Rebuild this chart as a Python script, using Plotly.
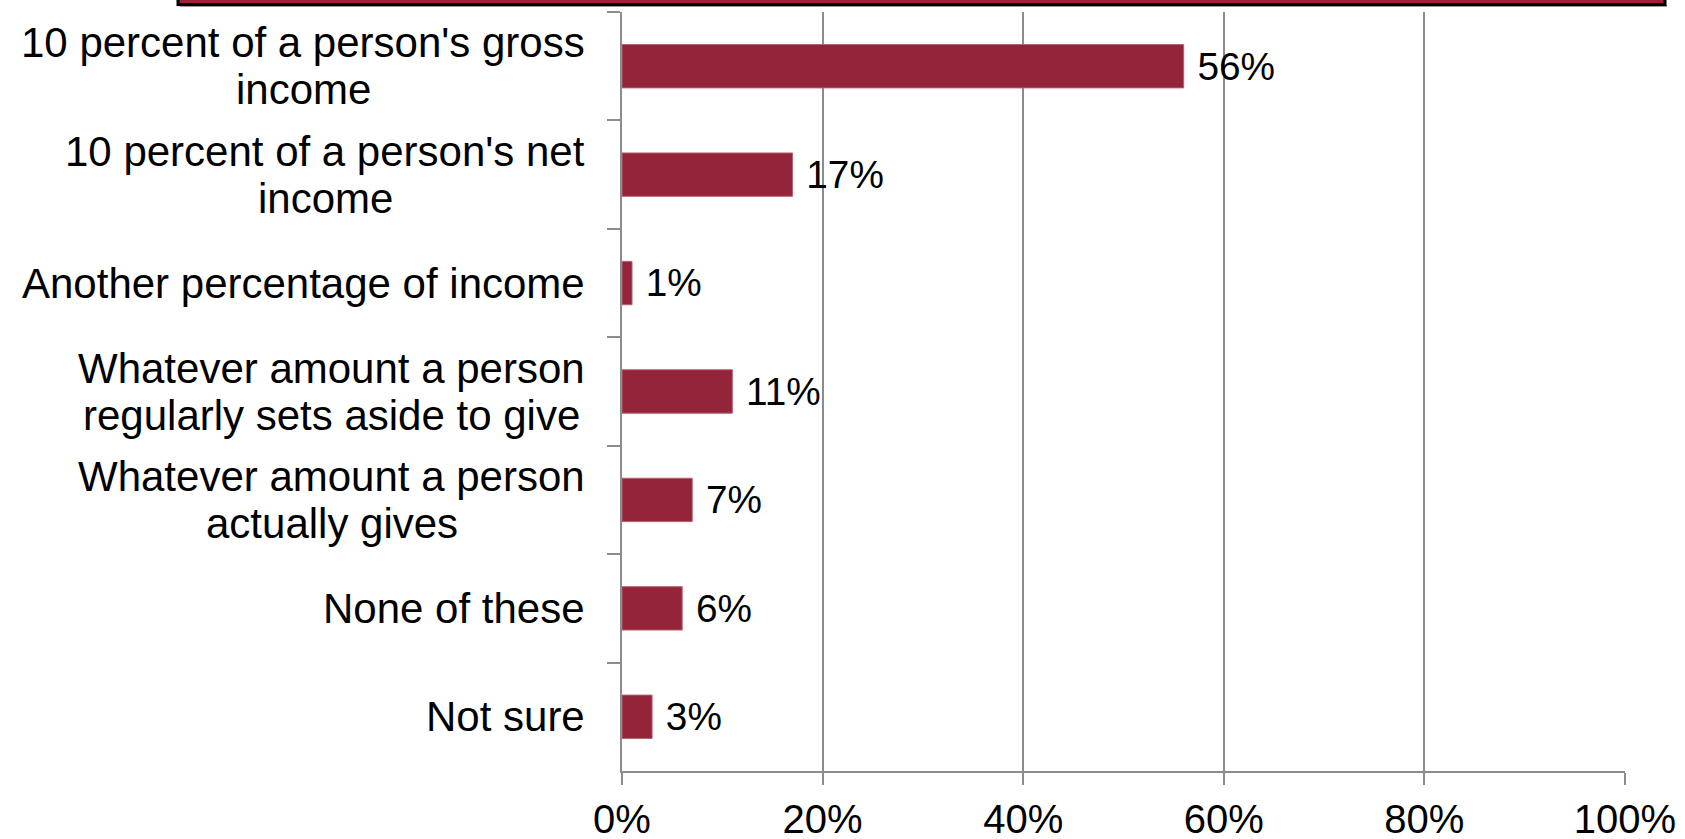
import plotly.graph_objects as go

categories = [
    "10 percent of a person's gross<br>income",
    "10 percent of a person's net<br>income",
    "Another percentage of income",
    "Whatever amount a person<br>regularly sets aside to give",
    "Whatever amount a person<br>actually gives",
    "None of these",
    "Not sure",
]
values = [56, 17, 1, 11, 7, 6, 3]
x_tick_vals = [0, 20, 40, 60, 80, 100]
x_tick_text = ["0%", "20%", "40%", "60%", "80%", "100%"]

W, H = 1685, 839
L, R, T, B = 622, 60, 12, 68
FONT = "Liberation Sans, Arial, sans-serif"
FS = 42
GRID = "#8c8c8c"
BAR = "#93243A"
LINE_GAP = 47
LABEL_RIGHT = 585

# approximate Arial / Liberation Sans advance widths (per 1000 em)
CHAR_W = {
    " ": 278, "'": 191, "0": 556, "1": 556, "2": 556, "3": 556, "4": 556,
    "5": 556, "6": 556, "7": 556, "8": 556, "9": 556,
    "a": 556, "b": 556, "c": 500, "d": 556, "e": 556, "f": 278, "g": 556,
    "h": 556, "i": 222, "j": 222, "k": 500, "l": 222, "m": 833, "n": 556,
    "o": 556, "p": 556, "q": 556, "r": 333, "s": 500, "t": 278, "u": 556,
    "v": 500, "w": 722, "x": 500, "y": 500, "z": 500,
    "A": 667, "N": 722, "W": 944,
}


def text_w(s):
    return sum(CHAR_W.get(c, 556) for c in s) / 1000 * FS


fig = go.Figure(
    go.Bar(
        x=values,
        y=categories,
        orientation="h",
        marker=dict(color=BAR, line=dict(color="#b8606f", width=1)),
        text=[f"\u00a0{v}%" for v in values],
        textposition="outside",
        textfont=dict(family=FONT, size=FS, color="black"),
        cliponaxis=False,
        width=0.4,
    )
)

plot_h = H - T - B
plot_w = W - L - R


def px_x(px):
    return (px - L) / plot_w


def px_y(py):
    return (H - B - py) / plot_h


annotations = []
for cat in categories:
    lines = cat.split("<br>")
    n = len(lines)
    block_w = max(text_w(s) for s in lines)
    cx = LABEL_RIGHT - block_w / 2
    for j, line in enumerate(lines):
        annotations.append(
            dict(
                x=px_x(cx),
                xref="paper",
                y=cat,
                yref="y",
                text=line,
                showarrow=False,
                xanchor="center",
                yanchor="middle",
                align="center",
                yshift=((n - 1) / 2 - j) * LINE_GAP,
                font=dict(family=FONT, size=FS, color="black"),
            )
        )

fig.update_layout(
    width=W,
    height=H,
    margin=dict(l=L, r=R, t=T, b=B, autoexpand=False),
    paper_bgcolor="white",
    plot_bgcolor="white",
    showlegend=False,
    font=dict(family=FONT, size=FS, color="black"),
    xaxis=dict(
        range=[0, 100],
        tickvals=x_tick_vals,
        ticktext=x_tick_text,
        showgrid=True,
        gridcolor=GRID,
        gridwidth=1.5,
        showline=True,
        linecolor=GRID,
        linewidth=1.5,
        ticks="outside",
        ticklen=12,
        tickcolor=GRID,
        tickwidth=1.5,
        ticklabelstandoff=0,
        tickfont=dict(family=FONT, size=40, color="black"),
        zeroline=False,
        automargin=False,
        fixedrange=True,
    ),
    yaxis=dict(
        autorange="reversed",
        showgrid=False,
        showline=True,
        linecolor=GRID,
        linewidth=1.5,
        ticks="outside",
        tickson="boundaries",
        ticklen=13,
        tickcolor=GRID,
        tickwidth=1.5,
        showticklabels=False,
        automargin=False,
        fixedrange=True,
    ),
    annotations=annotations,
    shapes=[
        dict(
            type="line",
            xref="paper",
            yref="paper",
            x0=px_x(180),
            x1=px_x(1667),
            y0=px_y(6),
            y1=px_y(6),
            line=dict(color="#9a9a9a", width=2),
        ),
        dict(
            type="rect",
            xref="paper",
            yref="paper",
            x0=px_x(178),
            x1=px_x(1665),
            y0=px_y(4.5),
            y1=px_y(-20),
            fillcolor="#9B2335",
            line=dict(color="black", width=3),
        ),
    ],
)

fig.write_html(
    "out.html",
    config={"displayModeBar": False},
    post_script="document.body.style.margin='0';document.body.style.overflow='hidden';",
)
